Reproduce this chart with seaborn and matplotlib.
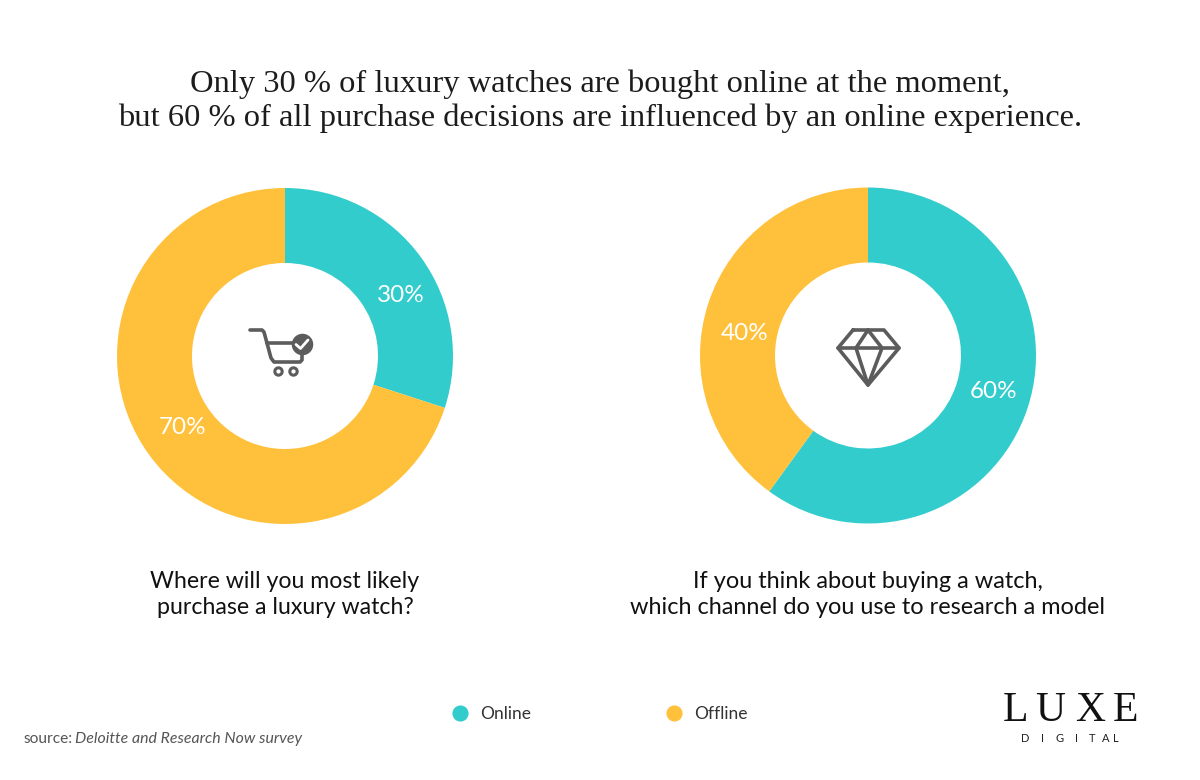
import matplotlib
matplotlib.use('Agg')
import matplotlib.pyplot as plt
import seaborn as sns

# ========== data ==========
channels = ['Online', 'Offline']
purchase_values = [30, 70]
research_values = [60, 40]
title_lines = ['Only 30 % of luxury watches are bought online at the moment,',
               'but 60 % of all purchase decisions are influenced by an online experience.']
purchase_question = ['Where will you most likely', 'purchase a luxury watch?']
research_question = ['If you think about buying a watch,', 'which channel do you use to research a model']

sns.set_theme(style='white')
plt.rcParams['font.family'] = ['Lato', 'DejaVu Sans']
palette = sns.color_palette(['#33cccc', '#ffc13b'])
W, H = 1200, 780
ICON = '#5c5c5c'

fig = plt.figure(figsize=(W / 100, H / 100), dpi=100, facecolor='white')

# overlay in pixel coordinates for text and icons
over = fig.add_axes([0, 0, 1, 1], zorder=3)
over.set_xlim(0, W)
over.set_ylim(H, 0)
over.axis('off')
over.patch.set_alpha(0)


def donut(values, cx, cy, label_pos):
    r = 168
    ax = fig.add_axes([(cx - r) / W, 1 - (cy + r) / H, 2 * r / W, 2 * r / H])
    ax.pie(values, colors=palette, startangle=90, counterclock=False, radius=1,
           wedgeprops=dict(width=75 / 168, linewidth=0))
    ax.set_xlim(-1, 1)
    ax.set_ylim(-1, 1)
    for v, (x, y) in zip(values, label_pos):
        over.text(x, y, f'{v}%', color='white', fontsize=17.5, ha='center', va='center')


donut(purchase_values, 285, 356, [(400.5, 295), (182.5, 427)])
donut(research_values, 868, 355.5, [(993.5, 391), (745, 334)])

# title
for line, y in zip(title_lines, [84, 118]):
    over.text(600, y, line, family='Liberation Serif', fontsize=23.4, color='#1c1c1c',
              ha='center', va='center')

# questions
for line, y in zip(purchase_question, [582, 608]):
    over.text(285, y, line, fontsize=16.7, color='#111111', ha='center', va='center')
for line, y in zip(research_question, [582, 608]):
    over.text(868, y, line, fontsize=16.9, color='#111111', ha='center', va='center')

# legend
for name, color, x in zip(channels, palette, [460, 674]):
    over.scatter([x], [713], s=135, color=color, linewidths=0)
    over.text(x + 20, 714, name, fontsize=12.5, color='#333333', va='center')

# source
over.text(24, 739, 'source:', fontsize=11.2, color='#555555', va='center')
over.text(75, 739, 'Deloitte and Research Now survey', fontsize=11.4, color='#555555',
          style='italic', va='center')

# logo
for ch, x in zip('LUXE', [1015, 1050, 1090, 1125]):
    over.text(x, 711, ch, family='Liberation Serif', fontsize=30, color='#111111',
              ha='center', va='center')
for ch, x in zip('DIGITAL', [1025, 1042, 1060, 1077, 1092, 1106, 1116]):
    over.text(x, 739, ch, fontsize=8, color='#222222', ha='center', va='center')


def stroke(xs, ys, lw=2.6, color=ICON):
    over.plot(xs, ys, color=color, lw=lw, solid_capstyle='round', solid_joinstyle='round',
              zorder=4)


# cart icon
stroke([250, 262, 264, 271, 274, 300, 302, 302], [330, 330, 332, 358, 362, 362, 360, 352])
stroke([267, 293], [343, 343])
over.scatter([278, 293], [371, 371], s=28, facecolor='white', edgecolor=ICON, linewidth=2.2)
over.scatter([302], [344], s=240, color=ICON, linewidths=0, zorder=3)
stroke([296, 300.5, 308], [344.5, 348.5, 340], lw=2, color='white')

# diamond icon
stroke([853, 884, 899, 868, 838, 853], [330, 330, 348, 385, 348, 330])
stroke([838, 899], [348, 348])
stroke([868, 856, 868, 882, 868], [330, 348, 385, 348, 330])

fig.savefig('out.png', dpi=100)
plt.close(fig)
